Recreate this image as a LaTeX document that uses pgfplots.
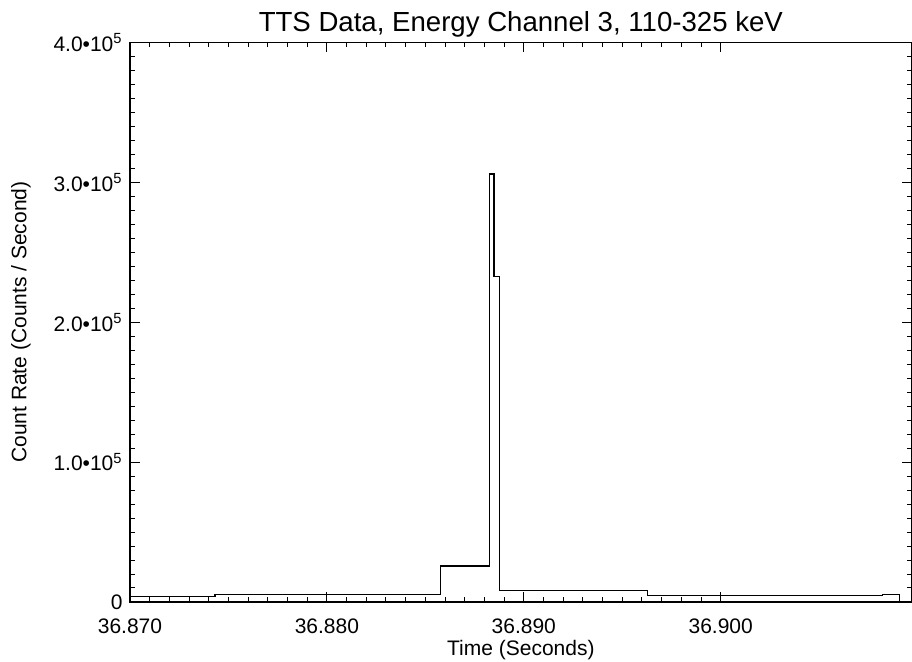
\documentclass[border=0pt]{standalone}
\usepackage{pgfplots}
\pgfplotsset{compat=1.18}
\usepackage{fontspec}
\setmainfont{Liberation Sans}
% times are given in ms after 36.870 s
\pgfplotstableread{
t      rate
0.00   3800
4.32   5300
15.78  25700
18.26  305900
18.49  232500
18.76  8000
26.29  4600
38.23  5200
39.10  0
39.70  0
}\ttsdata
\begin{document}
\fontsize{10.5}{12}\selectfont
\begin{tikzpicture}
\begin{axis}[
  scale only axis, width=390.85pt, height=279.85pt,
  xmin=0, xmax=39.70, ymin=0, ymax=400000,
  xtick={0,10,20,30}, xticklabels={36.870,36.880,36.890,36.900},
  minor x tick num=9,
  ytick={0,100000,200000,300000,400000},
  yticklabels={0,1.0•10\textsuperscript{5},2.0•10\textsuperscript{5},3.0•10\textsuperscript{5},4.0•10\textsuperscript{5}},
  minor y tick num=9,
  scaled ticks=false,
  tick align=inside,
  major tick length=5pt, minor tick length=2.5pt,
  tick style={black, line width=0.5pt},
  axis line style={black, line width=0.6pt},
  tick label style={font=\fontsize{10.5}{12}\selectfont},
  xticklabel style={yshift=-4.5pt},
  title={TTS Data, Energy Channel 3, 110-325 keV},
  title style={font=\fontsize{13.8}{16}\selectfont, at={(axis description cs:0.5,1)}, anchor=base, yshift=-0.7pt},
  xlabel={Time (Seconds)},
  xlabel style={font=\fontsize{10.5}{12}\selectfont, at={(axis description cs:0.5,-0.0855)}, anchor=center},
  ylabel={Count Rate (Counts / Second)},
  ylabel style={font=\fontsize{10.5}{12}\selectfont, at={(axis description cs:-0.1394,0.5)}, anchor=center, rotate=0},
]
\addplot[const plot mark left, black, line width=0.6pt] table[x=t, y=rate] {\ttsdata};
\end{axis}
\pgfresetboundingbox
\useasboundingbox ([shift={(-65pt,-30pt)}]current axis.south west) rectangle ([shift={(0.15pt,21.15pt)}]current axis.north east);
\end{tikzpicture}
\end{document}
